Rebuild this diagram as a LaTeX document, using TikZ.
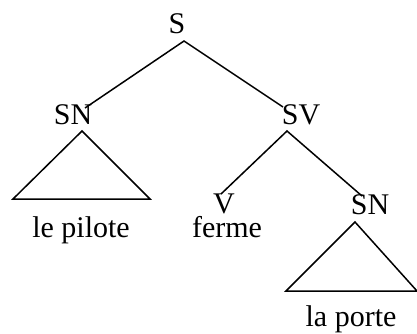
\documentclass[tikz,border=0pt]{standalone}
\usepackage{fontspec}
\setmainfont{Liberation Serif}
\begin{document}
\begin{tikzpicture}[x=1pt,y=-1pt,
  lab/.style={anchor=base,inner sep=0pt,font=\fontsize{30}{30}\selectfont},
  edge/.style={line width=1.5pt,line join=miter}]
\useasboundingbox (0,0) rectangle (417,333);
% labels
\node[lab] (S) at (177,33) {S};
\node[lab] (SN1) at (73,124) {SN};
\node[lab] (SV) at (301,124) {SV};
\node[lab] (V) at (224,213) {V};
\node[lab] (ferme) at (227,237) {ferme};
\node[lab] (SN2) at (370,214) {SN};
\node[lab] (pilote) at (81,237) {le pilote};
\node[lab] (porte) at (351,326) {la porte};
% connector points
\coordinate (Sb) at (184,41);
\coordinate (SNt) at (85,108);
\coordinate (SVt) at (283,107);
\coordinate (T1a) at (82,131);
\coordinate (T1l) at (13,199);
\coordinate (T1r) at (150,199);
\coordinate (SVb) at (287,131);
\coordinate (Vt) at (221,194);
\coordinate (SN2t) at (362,196);
\coordinate (T2a) at (355,222);
\coordinate (T2l) at (286,291);
\coordinate (T2r) at (417,291);
% edges
\draw[edge] (SNt) -- (Sb) -- (SVt);
\draw[edge] (T1a) -- (T1l) -- (T1r) -- cycle;
\draw[edge] (Vt) -- (SVb) -- (SN2t);
\draw[edge] (T2a) -- (T2l) -- (T2r) -- cycle;
\end{tikzpicture}
\end{document}
